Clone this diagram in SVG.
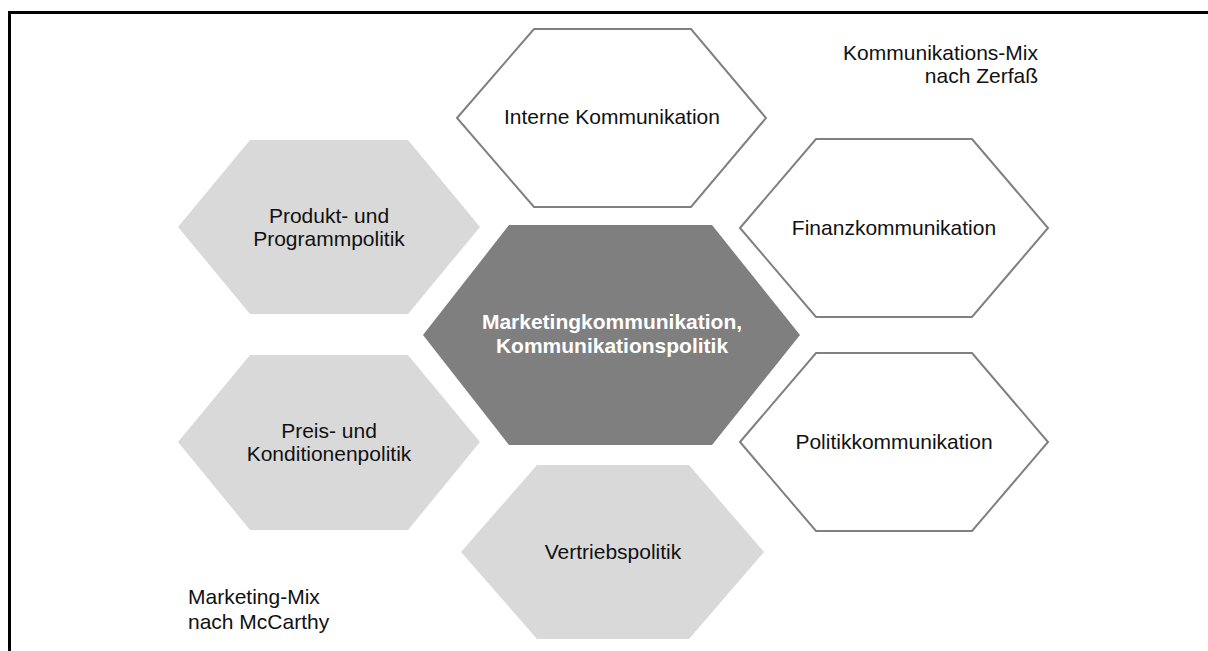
<svg xmlns="http://www.w3.org/2000/svg" width="1208" height="651" viewBox="0 0 1208 651">
<style>
  .t{font-family:"Liberation Sans",Arial,sans-serif;font-size:21px;fill:#111;text-anchor:middle}
  .b{font-weight:bold;fill:#fff}
  .lbl{font-family:"Liberation Sans",Arial,sans-serif;font-size:21px;fill:#111}
  .out{fill:#fff;stroke:#808080;stroke-width:2}
  .gray{fill:#d9d9d9}
  .dark{fill:#7f7f7f}
</style>
<rect width="1208" height="651" fill="#fff"/>
<g id="frame" fill="none" stroke="#000" stroke-width="3">
  <polyline points="9.5,651 9.5,12.5 1208,12.5"/>
</g>
<g id="connectors"></g>
<g id="interne">
  <polygon class="out" points="457,118 534,29 691,29 766,118 691,207 534,207"/>
  <text class="t" x="612" y="124">Interne Kommunikation</text>
</g>
<g id="finanz">
  <polygon class="out" points="740,228 816,139 972,139 1048,228 972,317 816,317"/>
  <text class="t" x="894" y="235">Finanzkommunikation</text>
</g>
<g id="politik">
  <polygon class="out" points="740,442 816,353 972,353 1048,442 972,531 816,531"/>
  <text class="t" x="894" y="449">Politikkommunikation</text>
</g>
<g id="produkt">
  <polygon class="gray" points="178,227 250,140 408,140 480,227 408,314 250,314"/>
  <text class="t" x="329" y="223">Produkt- und</text>
  <text class="t" x="329" y="246">Programmpolitik</text>
</g>
<g id="preis">
  <polygon class="gray" points="178,442 250,355 408,355 480,442 408,530 250,530"/>
  <text class="t" x="329" y="438">Preis- und</text>
  <text class="t" x="329" y="461">Konditionenpolitik</text>
</g>
<g id="vertrieb">
  <polygon class="gray" points="461,552 537,465 689,465 764,552 689,639 537,639"/>
  <text class="t" x="613" y="559">Vertriebspolitik</text>
</g>
<g id="zentrum">
  <polygon class="dark" points="423,335 509,225 712,225 800,335 712,445 509,445"/>
  <text class="t b" x="612" y="329">Marketingkommunikation,</text>
  <text class="t b" x="612" y="353">Kommunikationspolitik</text>
</g>
<g id="label-zerfass">
  <text class="lbl" x="1038" y="60" text-anchor="end">Kommunikations-Mix</text>
  <text class="lbl" x="1038" y="83" text-anchor="end">nach Zerfaß</text>
</g>
<g id="label-mccarthy">
  <text class="lbl" x="188" y="604">Marketing-Mix</text>
  <text class="lbl" x="188" y="629">nach McCarthy</text>
</g>
</svg>
